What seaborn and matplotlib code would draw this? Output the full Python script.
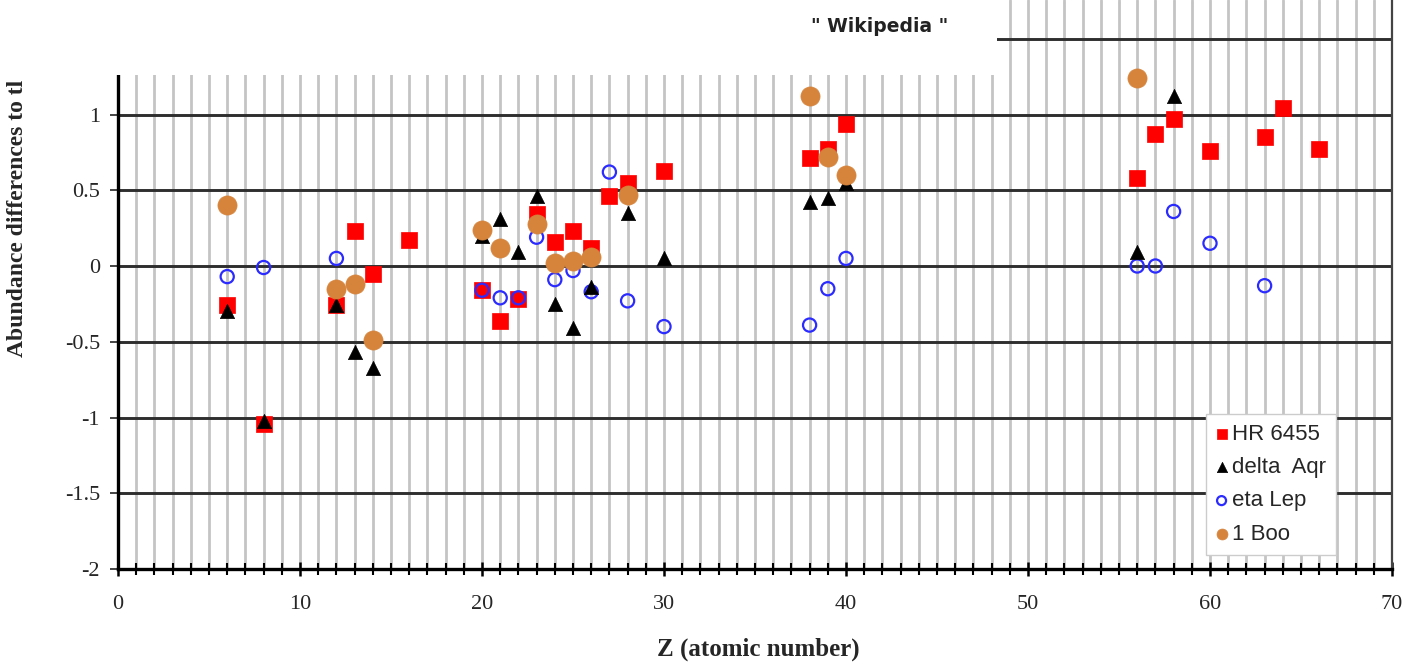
import numpy as np
import pandas as pd
import matplotlib
matplotlib.use("Agg")
import matplotlib.pyplot as plt
import seaborn as sns
from matplotlib.patches import Rectangle
from matplotlib.ticker import MultipleLocator, FixedLocator, FixedFormatter

# ---- data ----
hr_z = [6, 8, 12, 13, 14, 16, 20, 21, 22, 23, 24, 25, 26, 27, 28, 30, 38, 39, 40, 56, 57, 58, 60, 63, 64, 66]
hr_v = [-0.26, -1.04, -0.26, 0.23, -0.05, 0.17, -0.16, -0.36, -0.22, 0.34, 0.16, 0.23, 0.12, 0.46, 0.55, 0.63,
        0.71, 0.77, 0.94, 0.58, 0.87, 0.97, 0.76, 0.85, 1.04, 0.77]
da_z = [6, 8, 12, 13, 14, 20, 21, 22, 23, 24, 25, 26, 28, 30, 38, 39, 40, 56, 58]
da_v = [-0.30, -1.02, -0.26, -0.57, -0.67, 0.20, 0.31, 0.09, 0.46, -0.25, -0.41, -0.14, 0.35, 0.05,
        0.42, 0.45, 0.55, 0.09, 1.12]
el_z = [6, 8, 12, 20, 21, 22, 23, 24, 25, 26, 27, 28, 30, 38, 39, 40, 56, 57, 58, 60, 63]
el_v = [-0.07, -0.01, 0.05, -0.16, -0.21, -0.21, 0.19, -0.09, -0.03, -0.17, 0.62, -0.23, -0.40,
        -0.39, -0.15, 0.05, 0.0, 0.0, 0.36, 0.15, -0.13]
bo_z = [6, 12, 13, 14, 20, 21, 23, 24, 25, 26, 28, 38, 39, 40, 56]
bo_v = [0.40, -0.15, -0.12, -0.49, 0.24, 0.12, 0.28, 0.02, 0.03, 0.06, 0.47, 1.12, 0.72, 0.60, 1.24]

series_names = ["HR 6455", "delta  Aqr", "eta Lep", "1 Boo"]
ytick_vals = [-2, -1.5, -1, -0.5, 0, 0.5, 1, 1.5]
ytick_labels = ["-2", "-1.5", "-1", "-0.5", "0", "0.5", "1", "1.5"]
xtick_vals = [0, 10, 20, 30, 40, 50, 60, 70]
xtick_labels = ["0", "10", "20", "30", "40", "50", "60", "70"]

sns.set_style("white")
plt.rcParams["font.family"] = ["Liberation Serif", "DejaVu Serif"]
plt.rcParams["axes.unicode_minus"] = False

W, H = 1413, 670
fig = plt.figure(figsize=(W / 100, H / 100), dpi=100)
ax = fig.add_axes([118 / W, 1 - 569 / H, (1392 - 118) / W, 569 / H])

red = "#ff0000"
blk = "#000000"
blue = "#2b2bff"
orng = "#d6843c"

df_hr = pd.DataFrame({"Z": hr_z, "v": hr_v})
df_da = pd.DataFrame({"Z": da_z, "v": da_v})
df_el = pd.DataFrame({"Z": el_z, "v": el_v})
df_bo = pd.DataFrame({"Z": bo_z, "v": bo_v})

sns.scatterplot(data=df_hr, x="Z", y="v", marker="s", s=130, color=red, edgecolor=red,
                linewidth=0.5, ax=ax, zorder=3, label=series_names[0])
sns.scatterplot(data=df_el, x="Z", y="v", marker="o", s=90, facecolor="none", edgecolor=blue,
                linewidth=1.6, ax=ax, zorder=4, label=series_names[2])
sns.scatterplot(data=df_da, x="Z", y="v", marker="^", s=105, color=blk, edgecolor=blk,
                linewidth=0.5, ax=ax, zorder=5, label=series_names[1])
sns.scatterplot(data=df_bo, x="Z", y="v", marker="o", s=190, color=orng, edgecolor=orng,
                linewidth=0.5, ax=ax, zorder=6, label=series_names[3])

ax.set_xlim(0, 70)
ax.set_ylim(-2, 266 / 151.5)

# grid
ax.xaxis.set_major_locator(FixedLocator(xtick_vals))
ax.xaxis.set_major_formatter(FixedFormatter(xtick_labels))
ax.xaxis.set_minor_locator(MultipleLocator(1))
ax.yaxis.set_major_locator(FixedLocator(ytick_vals))
ax.yaxis.set_major_formatter(FixedFormatter(ytick_labels))
ax.set_axisbelow(True)
ax.grid(True, axis="x", which="both", color="#c4c4c4", linewidth=2.0)
ax.grid(True, axis="y", which="major", color="#2e2e2e", linewidth=2.1)

ax.spines["top"].set_visible(False)
ax.spines["left"].set_color("black")
ax.spines["left"].set_linewidth(2.4)
ax.spines["bottom"].set_color("black")
ax.spines["bottom"].set_linewidth(2.4)
ax.spines["right"].set_color("#444444")
ax.spines["right"].set_linewidth(1.6)

ax.tick_params(axis="x", which="major", direction="inout", length=10, width=1.8, color="black",
               labelsize=16, pad=14, bottom=True)
ax.tick_params(axis="x", which="minor", direction="inout", length=8, width=1.5, color="black",
               bottom=True)
ax.tick_params(axis="y", which="major", direction="out", length=6, width=1.4, color="#444444",
               labelsize=16, pad=7, left=True)

ax.set_xlabel("Z (atomic number)", fontsize=18, fontweight="bold")
ax.xaxis.set_label_coords((758 - 118) / 1274, (569 - 638) / 569)
ax.set_ylabel("Abundance differences to tl", fontsize=17, fontweight="bold")
ax.yaxis.set_label_coords((28 - 118) / 1274, (569 - 218) / 569)

# legend
handles, labels = ax.get_legend_handles_labels()
order = [labels.index(n) for n in series_names]
leg = ax.legend([handles[i] for i in order], [labels[i] for i in order],
                loc="upper left", bbox_to_anchor=((1206 - 118) / 1274, (569 - 414) / 569),
                prop={"family": "Liberation Sans", "size": 16}, frameon=True, fancybox=False,
                edgecolor="#cccccc", framealpha=1, handlelength=0.5, handletextpad=0.2,
                labelspacing=0.55, borderpad=0.45, borderaxespad=0)
leg.get_frame().set_linewidth(1.0)
for h, sz in zip(leg.legend_handles, [60, 55, 42, 62]):
    h.set_sizes([sz])

# white overlay box (top-left) and caption
fig.add_artist(Rectangle((0, 1 - 75 / H), 997 / W, 75 / H, transform=fig.transFigure,
                         facecolor="white", edgecolor="none", zorder=20))
fig.text(880 / W, 1 - 27 / H, "\" Wikipedia \"", ha="center", va="center", fontsize=13.5,
         fontweight="bold", family="DejaVu Sans", color="#222222", zorder=21)

fig.savefig("out.png", dpi=100)
